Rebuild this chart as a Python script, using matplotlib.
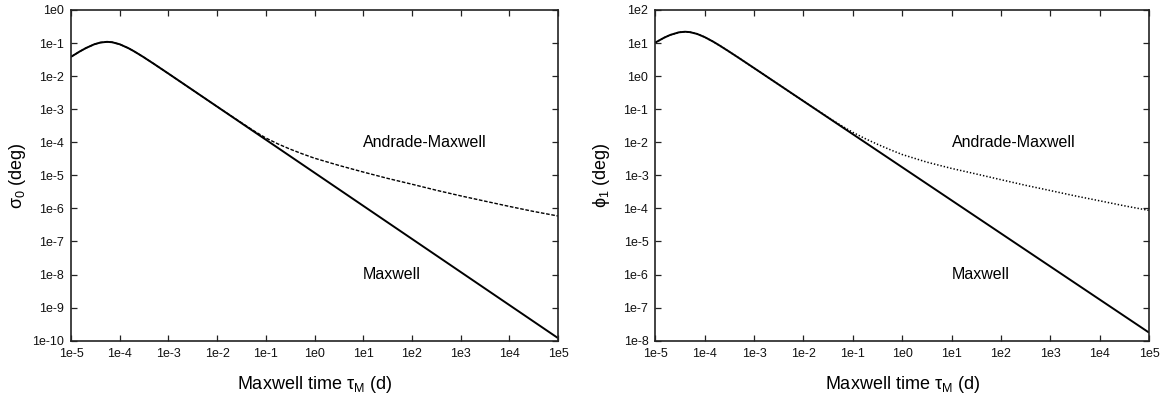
import matplotlib
matplotlib.use("Agg")
import matplotlib.pyplot as plt

plt.rcParams['font.family'] = ['Liberation Sans', 'DejaVu Sans']
plt.rcParams['mathtext.fontset'] = 'custom'
plt.rcParams['mathtext.rm'] = 'Liberation Sans'
plt.rcParams['mathtext.it'] = 'Liberation Sans:italic'
plt.rcParams['mathtext.bf'] = 'Liberation Sans:bold'

# ---------------- data ----------------
# Left panel: sigma_0 (deg) vs Maxwell time
x_left_max = [1e-5, 1.5e-5, 2e-5, 3e-5, 4e-5, 5.5e-5, 7e-5, 1e-4, 1.5e-4, 2e-4,
              3e-4, 5e-4, 1e-3, 1e-2, 1e-1, 1e0, 1e1, 1e2, 1e3, 1e4, 1e5]
sigma_maxwell = [0.0384, 0.0553, 0.0700, 0.0917, 0.1037, 0.109, 0.1059, 0.0921,
                 0.0705, 0.0557, 0.0387, 0.0237, 0.01195, 1.2e-3, 1.2e-4, 1.2e-5,
                 1.2e-6, 1.2e-7, 1.2e-8, 1.2e-9, 1.2e-10]

x_left_and = [1e-5, 1.5e-5, 2e-5, 3e-5, 4e-5, 5.5e-5, 7e-5, 1e-4, 1.5e-4, 2e-4,
              3e-4, 5e-4, 1e-3, 1e-2, 3.16e-2, 5.62e-2, 1e-1, 1.78e-1, 3.16e-1,
              5.62e-1, 1e0, 3.16e0, 1e1, 3.16e1, 1e2, 3.16e2, 1e3, 3.16e3, 1e4,
              3.16e4, 1e5]
sigma_andrade = [0.0384, 0.0553, 0.0700, 0.0917, 0.1037, 0.109, 0.1059, 0.0921,
                 0.0705, 0.0557, 0.0387, 0.0237, 0.01195, 1.2e-3, 3.9e-4, 2.24e-4,
                 1.35e-4, 8.9e-5, 6.2e-5, 4.47e-5, 3.3e-5, 2.0e-5, 1.26e-5, 8.1e-6,
                 5.4e-6, 3.55e-6, 2.4e-6, 1.66e-6, 1.15e-6, 8.1e-7, 5.9e-7]

# Right panel: phi_1 (deg) vs Maxwell time
x_right_max = [1e-5, 1.5e-5, 2e-5, 3e-5, 4e-5, 5e-5, 7e-5, 1e-4, 1.5e-4, 2e-4,
               3e-4, 5e-4, 1e-3, 1e-2, 1e-1, 1e0, 1e1, 1e2, 1e3, 1e4, 1e5]
phi_maxwell = [10.35, 14.47, 17.6, 21.12, 22.0, 21.46, 18.95, 15.17, 10.96, 8.46,
               5.76, 3.50, 1.757, 0.176, 1.76e-2, 1.76e-3, 1.76e-4, 1.76e-5,
               1.76e-6, 1.76e-7, 1.76e-8]

x_right_and = [1e-5, 1.5e-5, 2e-5, 3e-5, 4e-5, 5e-5, 7e-5, 1e-4, 1.5e-4, 2e-4,
               3e-4, 5e-4, 1e-3, 1e-2, 3.16e-2, 5.62e-2, 1e-1, 1.78e-1, 3.16e-1,
               5.62e-1, 1e0, 3.16e0, 1e1, 3.16e1, 1e2, 3.16e2, 1e3, 3.16e3, 1e4,
               3.16e4, 1e5]
phi_andrade = [10.35, 14.47, 17.6, 21.12, 22.0, 21.46, 18.95, 15.17, 10.96, 8.46,
               5.76, 3.50, 1.757, 0.176, 5.69e-2, 3.31e-2, 2.0e-2, 1.29e-2, 8.7e-3,
               6.03e-3, 4.27e-3, 2.51e-3, 1.62e-3, 1.10e-3, 7.4e-4, 5.0e-4,
               3.47e-4, 2.4e-4, 1.7e-4, 1.2e-4, 8.7e-5]

x_ticks = [1e-5, 1e-4, 1e-3, 1e-2, 1e-1, 1e0, 1e1, 1e2, 1e3, 1e4, 1e5]
x_tick_labels = ['1e-5', '1e-4', '1e-3', '1e-2', '1e-1', '1e0', '1e1', '1e2',
                 '1e3', '1e4', '1e5']
y_ticks_left = [1e-10, 1e-9, 1e-8, 1e-7, 1e-6, 1e-5, 1e-4, 1e-3, 1e-2, 1e-1, 1e0]
y_tick_labels_left = ['1e-10', '1e-9', '1e-8', '1e-7', '1e-6', '1e-5', '1e-4',
                      '1e-3', '1e-2', '1e-1', '1e0']
y_ticks_right = [1e-8, 1e-7, 1e-6, 1e-5, 1e-4, 1e-3, 1e-2, 1e-1, 1e0, 1e1, 1e2]
y_tick_labels_right = ['1e-8', '1e-7', '1e-6', '1e-5', '1e-4', '1e-3', '1e-2',
                       '1e-1', '1e0', '1e1', '1e2']

# ---------------- figure ----------------
fig = plt.figure(figsize=(11.68, 3.99), dpi=100)
axL = fig.add_axes([71 / 1168, (399 - 340.7) / 399, 487 / 1168, 330.7 / 399])
axR = fig.add_axes([655.3 / 1168, (399 - 340.7) / 399, 493.7 / 1168, 330.7 / 399])


def style(ax, yticks, ylabels, ylim):
    ax.set_xscale('log')
    ax.set_yscale('log')
    ax.set_xlim(1e-5, 1e5)
    ax.set_ylim(*ylim)
    ax.set_xticks(x_ticks)
    ax.set_xticklabels(x_tick_labels)
    ax.set_yticks(yticks)
    ax.set_yticklabels(ylabels)
    ax.minorticks_off()
    ax.tick_params(axis='both', which='major', direction='in', length=4.5,
                   width=0.9, labelsize=9, pad=5, top=True, right=True,
                   colors='#222222', labelcolor='#111111')
    for s in ax.spines.values():
        s.set_linewidth(1.2)
        s.set_color('#222222')
    ax.set_xlabel('Maxwell time τ$_\\mathrm{M}$ (d)', fontsize=13)
    ax.xaxis.set_label_coords(0.5, -0.10)


style(axL, y_ticks_left, y_tick_labels_left, (1e-10, 1e0))
style(axR, y_ticks_right, y_tick_labels_right, (1e-8, 1e2))

axL.plot(x_left_max, sigma_maxwell, color='black', lw=1.4, solid_capstyle='butt')
axL.plot(x_left_and, sigma_andrade, color='black', lw=1.0, dashes=(2.6, 1.2))
axR.plot(x_right_max, phi_maxwell, color='black', lw=1.4, solid_capstyle='butt')
axR.plot(x_right_and, phi_andrade, color='black', lw=1.1, dashes=(0.9, 1.3))

axL.set_ylabel('σ$_0$ (deg)', fontsize=13)
axL.yaxis.set_label_coords(-0.088, 0.5)
axR.set_ylabel('ϕ$_1$ (deg)', fontsize=13)
axR.yaxis.set_label_coords(-0.088, 0.5)

axL.text(10, 1e-4, 'Andrade-Maxwell', fontsize=11.5, ha='left', va='center')
axL.text(10, 1e-8, 'Maxwell', fontsize=11.5, ha='left', va='center')
axR.text(10, 1e-2, 'Andrade-Maxwell', fontsize=11.5, ha='left', va='center')
axR.text(10, 1e-6, 'Maxwell', fontsize=11.5, ha='left', va='center')

fig.savefig('out.png', dpi=100)
